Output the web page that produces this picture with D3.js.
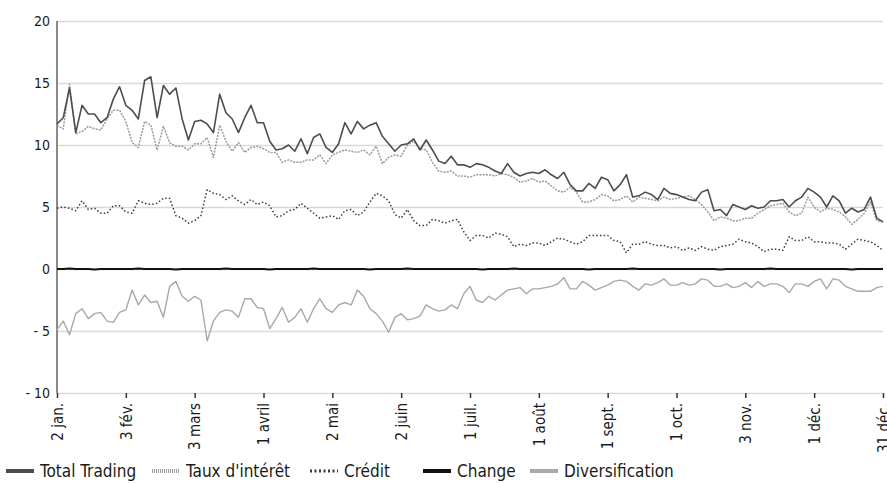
<!DOCTYPE html>
<html>
<head>
<meta charset="utf-8">
<script src="https://cdn.jsdelivr.net/npm/d3@7"></script>
<style>
  body { margin: 0; background: #fff; }
  text { font-family: "DejaVu Sans", sans-serif; font-stretch: condensed; fill: #1a1a1a; }
</style>
</head>
<body>
<svg id="chart"></svg>
<script>
// x tick labels, one every 11 sampled trading days
const dateLabels = ["2 jan.", "3 fév.", "3 mars", "1 avril", "2 mai", "2 juin", "1 juil.",
  "1 août", "1 sept.", "1 oct.", "3 nov.", "1 déc.", "31 déc."];
const stepPerLabel = 11;

const yTicks = [-10, -5, 0, 5, 10, 15, 20];

// series (one value every 2 trading days)
const totalTrading = [
  11.7, 12.2, 14.6, 11.0, 13.2, 12.5, 12.5, 11.8, 12.2, 13.7,
  14.7, 13.2, 12.8, 12.1, 15.2, 15.5, 12.2, 14.8, 14.1, 14.6,
  12.1, 10.4, 11.9, 12.0, 11.7, 11.0, 14.1, 12.6, 12.1, 11.0,
  12.2, 13.2, 11.8, 11.8, 10.3, 9.6, 9.7, 10.0, 9.5,
  10.5, 9.3, 10.6, 10.9, 9.8, 9.4, 10.1, 11.8, 10.9, 11.9,
  11.3, 11.6, 11.8, 10.7, 10.1, 9.5, 10.0, 10.1, 10.5, 9.6,
  10.4, 9.6, 8.7, 8.5, 9.1, 8.4, 8.4, 8.2, 8.5, 8.4,
  8.2, 7.9, 7.7, 8.5, 7.8, 7.5, 7.7, 7.8, 7.7, 8.0,
  7.6, 7.3, 7.8, 6.8, 6.3, 6.3, 6.9, 6.5, 7.4,
  7.2, 6.3, 6.8, 7.6, 5.8, 5.9, 6.2, 6.0, 5.6, 6.5,
  6.1, 6.0, 5.8, 5.6, 5.5, 6.2, 6.4, 4.7, 4.8, 4.3,
  5.2, 5.0, 4.8, 5.1, 4.9, 5.0, 5.5, 5.5, 5.6, 5.0,
  5.5, 5.8, 6.5, 6.2, 5.8, 5.0, 5.9, 5.5, 4.5, 4.9,
  4.6, 4.8, 5.8, 4.1, 3.8
];

const tauxInteret = [
  11.6, 11.3, 14.9, 10.9, 11.1, 11.5, 11.3, 11.2, 12.1, 12.8,
  12.8, 11.9, 10.2, 9.8, 11.9, 11.6, 9.6, 11.5, 10.2, 9.9,
  9.9, 9.6, 10.1, 10.1, 10.6, 9.0, 11.6, 10.3, 9.5, 10.2,
  9.4, 9.8, 9.9, 9.7, 9.4, 9.4, 8.6, 8.8, 8.6,
  8.6, 8.8, 8.8, 9.2, 8.5, 9.2, 9.4, 9.6, 9.5, 9.4,
  9.6, 9.2, 9.9, 8.5, 9.0, 9.2, 9.1, 10.0, 10.3, 9.7,
  9.6, 8.6, 7.9, 7.8, 7.9, 7.5, 7.5, 7.4, 7.6, 7.6,
  7.6, 7.5, 7.7, 7.6, 7.4, 7.0, 7.1, 7.3, 7.0, 7.1,
  6.7, 6.3, 6.2, 6.6, 6.2, 5.4, 5.4, 5.6,
  6.0, 5.9, 5.5, 5.6, 5.9, 5.4, 5.8, 5.7, 5.6, 5.5,
  5.8, 5.6, 5.7, 5.8, 5.9, 5.6, 5.2, 4.6, 3.9, 4.2,
  4.1, 3.9, 3.9, 4.1, 4.1, 4.5, 4.8, 5.1, 5.2, 5.3,
  4.6, 4.3, 4.5, 5.8, 5.0, 4.6, 4.9, 4.8, 4.6, 4.2,
  3.6, 4.0, 4.5, 5.4, 3.9, 3.8
];

const credit = [
  4.9, 5.0, 4.9, 4.7, 5.5, 4.8, 4.9, 4.5, 4.5, 5.1,
  5.1, 4.6, 4.5, 5.5, 5.3, 5.2, 5.3, 5.7, 5.7, 4.3,
  4.1, 3.7, 3.9, 4.3, 6.4, 6.1, 6.0, 5.6, 5.9, 5.5,
  5.2, 5.6, 5.2, 5.4, 5.1, 4.2, 4.3, 4.7, 4.8,
  5.3, 4.9, 4.5, 4.1, 4.2, 4.3, 4.0, 4.7, 4.8, 4.3,
  4.6, 5.4, 6.1, 5.9, 5.5, 4.4, 4.1, 4.8, 3.9, 3.5,
  3.5, 4.0, 3.9, 3.7, 3.9, 4.0, 3.0, 2.3, 2.7, 2.7,
  2.5, 2.9, 2.8, 2.6, 1.8, 2.0, 1.9, 2.1, 2.1, 1.9,
  2.2, 2.5, 2.4, 2.2, 2.0, 2.2, 2.7, 2.7,
  2.7, 2.7, 2.3, 2.2, 1.3, 2.0, 2.0, 2.2, 2.0, 1.9,
  1.9, 1.7, 1.8, 1.5, 1.7, 1.5, 1.8, 1.6, 1.5, 1.8,
  1.9, 2.0, 2.4, 2.2, 2.1,
  1.8, 1.4, 1.6, 1.6, 1.5, 2.6, 2.3, 2.3, 2.6, 2.2,
  2.2, 2.1, 2.1, 2.0, 1.6, 2.0, 2.4, 2.3, 2.2, 1.9,
  1.5
];

const change = [
  0, 0, 0.05, 0, 0, 0, -0.05, 0, 0, 0,
  0, 0, 0, 0.05, 0, 0, 0, 0, 0, -0.05,
  0, 0, 0, 0, 0, 0, 0, 0.05, 0, 0,
  0, 0, 0, 0, -0.05, 0, 0, 0, 0, 0,
  0, 0.05, 0, 0, 0, 0, 0, 0, 0, 0,
  -0.05, 0, 0, 0, 0, 0, 0.05, 0, 0, 0,
  0, 0, 0, 0, 0, 0, 0, 0, -0.05, 0,
  0, 0, 0, 0.05, 0, 0, 0, 0, 0, 0,
  0, 0, 0, 0, 0, -0.05, 0, 0, 0, 0,
  0, 0, 0.05, 0, 0, 0, 0, 0, 0, 0,
  0, 0, 0, 0, 0, 0, -0.05, 0, 0, 0,
  0, 0, 0, 0, 0.05, 0, 0, 0, 0, 0,
  0, 0, 0, 0, 0, 0, 0, -0.05, 0, 0,
  0, 0, 0
];

const diversification = [
  -4.9, -4.2, -5.3, -3.6, -3.2, -4.0, -3.6, -3.5, -4.2, -4.3,
  -3.5, -3.3, -1.7, -2.9, -2.1, -2.7, -2.6, -3.9, -1.4, -1.0,
  -2.2, -2.6, -2.2, -2.5, -5.8, -4.2, -3.5, -3.3, -3.4, -3.9,
  -2.4, -2.4, -3.1, -3.2, -4.8, -4.0, -3.1, -4.3, -3.9, -3.2,
  -4.3, -3.2, -2.4, -3.2, -3.5, -2.9, -2.7, -2.9, -1.7, -2.2,
  -3.2, -3.6, -4.2, -5.1, -3.9, -3.6, -4.1, -4.0, -3.8, -2.9,
  -3.2, -3.4, -3.3,
  -2.9, -3.2, -2.0, -1.4, -2.5, -2.7, -2.2, -2.5, -2.1, -1.7,
  -1.6, -1.5, -2.0, -1.6, -1.6, -1.5, -1.4, -1.2, -0.7, -1.6,
  -1.6, -1.0, -1.3, -1.7, -1.5, -1.3, -1.0, -0.9, -1.0, -1.4,
  -1.7, -1.2, -1.3, -1.1, -0.8, -1.3, -1.3, -1.1, -1.3, -1.2,
  -0.8, -0.9, -1.4, -1.4, -1.2, -1.5, -1.4, -1.1, -1.5, -1.0,
  -1.4, -1.2, -1.2, -1.4, -1.9, -1.2, -1.2, -1.4, -1.0, -0.8,
  -1.6, -0.8, -0.9, -1.4, -1.6, -1.8, -1.8, -1.8, -1.5, -1.4
];

const seriesNames = ["Total Trading", "Taux d'intérêt", "Crédit", "Change", "Diversification"];
const seriesValues = [totalTrading, tauxInteret, credit, change, diversification];

// styling, drawn bottom to top
const styles = {
  "Total Trading":   { color: "#4d4d4d", width: 1.6, dash: null,  legendWidth: 4, legendDash: null },
  "Taux d'intérêt":  { color: "#9a9a9a", width: 1.5, dash: "2,1.2", legendWidth: 4, legendDash: "1,1" },
  "Crédit":          { color: "#3a3a3a", width: 1.5, dash: "1.5,2.2", legendWidth: 3, legendDash: "2,2.5" },
  "Change":          { color: "#111111", width: 2,   dash: null,  legendWidth: 4, legendDash: null },
  "Diversification": { color: "#a8a8a8", width: 1.4, dash: null,  legendWidth: 4, legendDash: null }
};
const drawOrder = ["Diversification", "Crédit", "Taux d'intérêt", "Total Trading", "Change"];
const legendX = [6, 152, 310, 423, 530];

const width = 887, height = 484;
const margin = { top: 21, right: 4, bottom: 91, left: 57 };

const svg = d3.select("#chart").attr("width", width).attr("height", height);

const nPoints = totalTrading.length;
const x = d3.scaleLinear()
  .domain([0, nPoints - 1])
  .range([margin.left, 883]);

const y = d3.scaleLinear()
  .domain([-10, 20])
  .range([height - margin.bottom, margin.top]);

// horizontal grid
svg.append("g")
  .attr("class", "grid")
  .attr("transform", `translate(${margin.left},0)`)
  .call(d3.axisLeft(y).tickValues(yTicks).tickSize(-(width - margin.right - margin.left)).tickFormat(""))
  .call(g => g.select(".domain").remove())
  .call(g => g.selectAll("line").attr("stroke", "#d9d9d9").attr("stroke-width", 1.4));

// y labels
svg.append("g")
  .attr("transform", `translate(${margin.left},0)`)
  .call(d3.axisLeft(y).tickValues(yTicks).tickSize(0).tickPadding(7)
    .tickFormat(d => d < 0 ? "- " + Math.abs(d) : String(d)))
  .call(g => g.select(".domain").remove())
  .call(g => g.selectAll("text").style("font-size", "14px").attr("fill", "#1a1a1a"));

// y axis line
svg.append("line")
  .attr("x1", margin.left).attr("x2", margin.left)
  .attr("y1", y(20)).attr("y2", y(-10))
  .attr("stroke", "#8a8a8a").attr("stroke-width", 2);

// x axis with rotated date labels
const xAxis = d3.axisBottom(x)
  .tickValues(dateLabels.map((d, i) => i * stepPerLabel))
  .tickSize(5)
  .tickFormat((d, i) => dateLabels[i]);

svg.append("g")
  .attr("transform", `translate(0,${y(-10)})`)
  .call(xAxis)
  .call(g => g.select(".domain").remove())
  .call(g => g.selectAll("line").attr("stroke", "#333").attr("stroke-width", 1.5))
  .call(g => g.selectAll("text")
    .attr("transform", "rotate(-90)")
    .attr("x", -10)
    .attr("y", 0)
    .attr("dy", "0.35em")
    .style("text-anchor", "end")
    .style("font-size", "15px")
    .attr("fill", "#1a1a1a"));

// lines
const line = d3.line()
  .x((d, i) => x(i))
  .y(d => y(d));

drawOrder.forEach(name => {
  const s = styles[name];
  const vals = seriesValues[seriesNames.indexOf(name)];
  svg.append("path")
    .datum(vals)
    .attr("fill", "none")
    .attr("stroke", s.color)
    .attr("stroke-width", s.width)
    .attr("stroke-dasharray", s.dash)
    .attr("stroke-linejoin", "round")
    .attr("d", line);
});

// legend
const legend = svg.append("g").attr("transform", "translate(0,471)");
seriesNames.forEach((name, i) => {
  const s = styles[name];
  const g = legend.append("g").attr("transform", `translate(${legendX[i]},0)`);
  g.append("line")
    .attr("x1", 0).attr("x2", 28)
    .attr("stroke", s.color)
    .attr("stroke-width", s.legendWidth)
    .attr("stroke-dasharray", s.legendDash);
  g.append("text")
    .attr("x", 34)
    .attr("dy", "0.36em")
    .style("font-size", "17px")
    .text(name);
});
</script>
</body>
</html>
